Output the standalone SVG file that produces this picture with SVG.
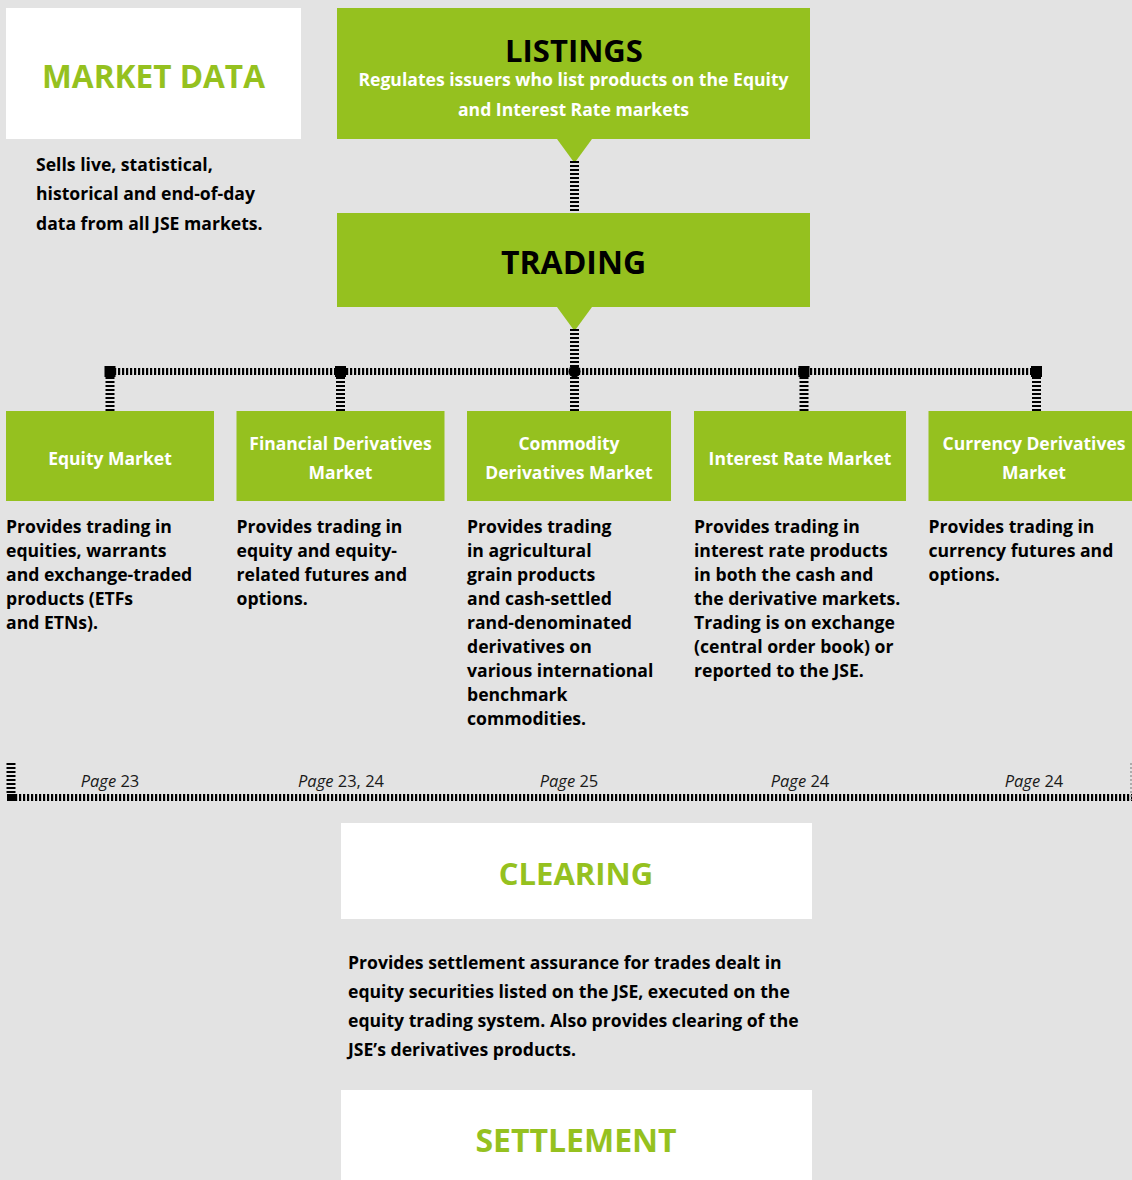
<svg xmlns="http://www.w3.org/2000/svg" width="1132" height="1180" viewBox="0 0 1132 1180">
<defs>
<style>
.bg{fill:#e3e3e3}
.g{fill:#95c11f}
.w{fill:#ffffff}
text{font-family:"Open Sans","Noto Sans","Liberation Sans",sans-serif;font-weight:700}
.big{font-size:32px}
.gt{fill:#95c11f}
.bt{fill:#000000}
.wt{fill:#ffffff;font-size:17.5px}
.d{fill:#000000;font-size:17.6px}
.pg{fill:#1a1a1a;font-size:16.5px;font-weight:400}
.dv{stroke:#000;stroke-width:9;stroke-dasharray:2 2;fill:none}
.dh{stroke:#000;stroke-width:7;stroke-dasharray:2.2 1.8;fill:none}
.thin{stroke:#9a9a9a;stroke-width:1.5;stroke-dasharray:2 2;fill:none}
</style>
</defs>
<rect class="bg" x="0" y="0" width="1132" height="1180"/>

<g id="connectors">
<polygon class="g" points="557,139 592,139 574.5,163"/>
<line class="dv" x1="574.5" y1="161" x2="574.5" y2="213"/>
<polygon class="g" points="557,307 592,307 574.5,331"/>
<line class="dv" x1="574.5" y1="329" x2="574.5" y2="411"/>
<line class="dh" x1="110" y1="371.5" x2="1036.5" y2="371.5"/>
<line class="dv" x1="110" y1="377" x2="110" y2="411"/>
<line class="dv" x1="340.5" y1="377" x2="340.5" y2="411"/>
<line class="dv" x1="804" y1="377" x2="804" y2="411"/>
<line class="dv" x1="1036.5" y1="377" x2="1036.5" y2="411"/>
<rect x="104.5" y="366" width="11" height="11" fill="#000"/>
<rect x="335" y="366" width="11" height="11" fill="#000"/>
<circle cx="574.5" cy="371.5" r="6" fill="#000"/>
<rect x="798.5" y="366" width="11" height="11" fill="#000"/>
<rect x="1031" y="366" width="11" height="11" fill="#000"/>
<line class="dv" x1="11" y1="763" x2="11" y2="795"/>
<rect x="7" y="794" width="8" height="7" fill="#000"/>
<line class="dh" x1="15" y1="797.5" x2="1132" y2="797.5"/>
<line class="thin" x1="1131" y1="763" x2="1131" y2="800"/>
</g>

<g id="market-data">
<rect class="w" x="6" y="8" width="295" height="131"/>
<text class="big gt" x="153.5" y="88" text-anchor="middle" style="font-size:31.6px">MARKET DATA</text>
<text class="d" x="36"><tspan x="36" y="171">Sells live, statistical,</tspan><tspan x="36" y="200">historical and end-of-day</tspan><tspan x="36" y="230">data from all JSE markets.</tspan></text>
</g>

<g id="listings">
<rect class="g" x="337" y="8" width="473" height="131"/>
<text class="big bt" x="574" y="62" text-anchor="middle" style="font-size:31px">LISTINGS</text>
<text class="wt" text-anchor="middle" style="font-size:17.6px"><tspan x="573.5" y="86">Regulates issuers who list products on the Equity</tspan><tspan x="573.5" y="116">and Interest Rate markets</tspan></text>
</g>

<g id="trading">
<rect class="g" x="337" y="213" width="473" height="94"/>
<text class="big bt" x="573.5" y="274" text-anchor="middle">TRADING</text>
</g>

<g id="equity-market">
<rect class="g" x="6" y="411" width="208" height="90"/>
<text class="wt" x="110" y="465" text-anchor="middle">Equity Market</text>
<text class="d"><tspan x="6" y="533">Provides trading in</tspan><tspan x="6" y="557">equities, warrants</tspan><tspan x="6" y="581">and exchange-traded</tspan><tspan x="6" y="605">products (ETFs</tspan><tspan x="6" y="629">and ETNs).</tspan></text>
</g>

<g id="financial-derivatives-market">
<rect class="g" x="236.5" y="411" width="208" height="90"/>
<text class="wt" text-anchor="middle"><tspan x="340.5" y="450">Financial Derivatives</tspan><tspan x="340.5" y="479">Market</tspan></text>
<text class="d"><tspan x="236.5" y="533">Provides trading in</tspan><tspan x="236.5" y="557">equity and equity-</tspan><tspan x="236.5" y="581">related futures and</tspan><tspan x="236.5" y="605">options.</tspan></text>
</g>

<g id="commodity-derivatives-market">
<rect class="g" x="467" y="411" width="204" height="90"/>
<text class="wt" text-anchor="middle"><tspan x="569" y="450">Commodity</tspan><tspan x="569" y="479">Derivatives Market</tspan></text>
<text class="d"><tspan x="467" y="533">Provides trading</tspan><tspan x="467" y="557">in agricultural</tspan><tspan x="467" y="581">grain products</tspan><tspan x="467" y="605">and cash-settled</tspan><tspan x="467" y="629">rand-denominated</tspan><tspan x="467" y="653">derivatives on</tspan><tspan x="467" y="677">various international</tspan><tspan x="467" y="701">benchmark</tspan><tspan x="467" y="725">commodities.</tspan></text>
</g>

<g id="interest-rate-market">
<rect class="g" x="694" y="411" width="212" height="90"/>
<text class="wt" x="800" y="465" text-anchor="middle">Interest Rate Market</text>
<text class="d"><tspan x="694" y="533">Provides trading in</tspan><tspan x="694" y="557">interest rate products</tspan><tspan x="694" y="581">in both the cash and</tspan><tspan x="694" y="605">the derivative markets.</tspan><tspan x="694" y="629">Trading is on exchange</tspan><tspan x="694" y="653">(central order book) or</tspan><tspan x="694" y="677">reported to the JSE.</tspan></text>
</g>

<g id="currency-derivatives-market">
<rect class="g" x="928.5" y="411" width="203.5" height="90"/>
<text class="wt" text-anchor="middle"><tspan x="1034" y="450">Currency Derivatives</tspan><tspan x="1034" y="479">Market</tspan></text>
<text class="d"><tspan x="928.5" y="533">Provides trading in</tspan><tspan x="928.5" y="557">currency futures and</tspan><tspan x="928.5" y="581">options.</tspan></text>
</g>

<g id="page-refs">
<text class="pg" x="110" y="787" text-anchor="middle"><tspan font-style="italic">Page</tspan> 23</text>
<text class="pg" x="341" y="787" text-anchor="middle"><tspan font-style="italic">Page</tspan> 23, 24</text>
<text class="pg" x="569" y="787" text-anchor="middle"><tspan font-style="italic">Page</tspan> 25</text>
<text class="pg" x="800" y="787" text-anchor="middle"><tspan font-style="italic">Page</tspan> 24</text>
<text class="pg" x="1034" y="787" text-anchor="middle"><tspan font-style="italic">Page</tspan> 24</text>
</g>

<g id="clearing">
<rect class="w" x="341" y="823" width="471" height="96"/>
<text class="big gt" x="576" y="885" text-anchor="middle" style="font-size:31px">CLEARING</text>
<text class="d"><tspan x="348" y="969">Provides settlement assurance for trades dealt in</tspan><tspan x="348" y="998">equity securities listed on the JSE, executed on the</tspan><tspan x="348" y="1027">equity trading system. Also provides clearing of the</tspan><tspan x="348" y="1056">JSE’s derivatives products.</tspan></text>
</g>

<g id="settlement">
<rect class="w" x="341" y="1090" width="471" height="90"/>
<text class="big gt" x="576" y="1152" text-anchor="middle">SETTLEMENT</text>
</g>
</svg>
